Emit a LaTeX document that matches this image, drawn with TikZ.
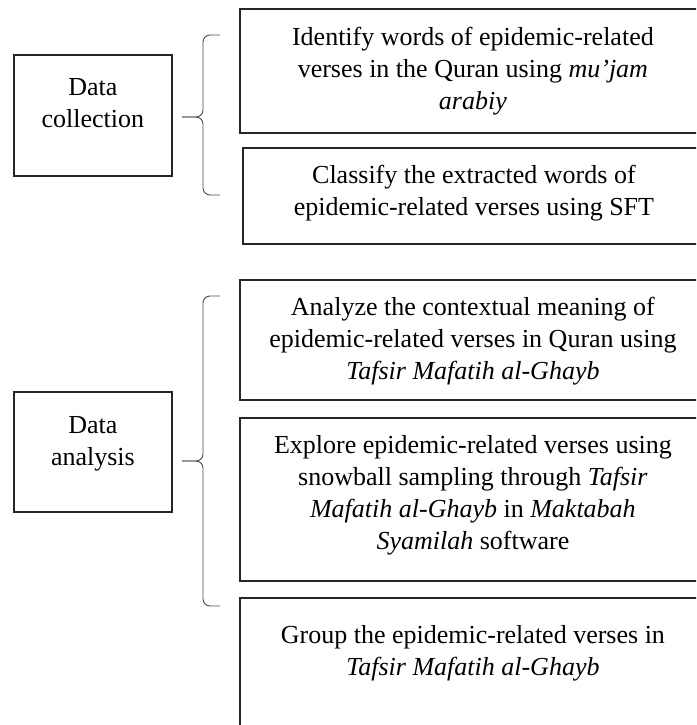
\documentclass[tikz,border=0pt]{standalone}
\usepackage{fontspec}
\setmainfont{Liberation Serif}

% box with text set from the top
\newcommand{\boxtext}[4]{\begin{minipage}[c][#2][t]{#1}\centering\rule{0pt}{#3}#4\end{minipage}}

\tikzset{
  stepbox/.style={draw=black!85, line width=1.8pt, inner sep=0pt, anchor=north west},
  bracket/.style={draw=black!70, line width=0.9pt, rounded corners=7pt}
}

\begin{document}
\begin{tikzpicture}[x=1pt,y=-1pt,font=\fontsize{26}{32}\selectfont]
\useasboundingbox (0,0) rectangle (696,725);
\clip (0,0) rectangle (696,725);

% left column
\node[stepbox] (collect) at (13,54) {\boxtext{158pt}{121pt}{41pt}{Data\\collection}};
\node[stepbox] (analyse) at (13,391) {\boxtext{158pt}{120pt}{42pt}{Data\\analysis}};

% right column
\node[stepbox] (identify) at (239,8) {\boxtext{466pt}{124pt}{37pt}{Identify words of epidemic-related\\verses in the Quran using \textit{mu’jam}\\\textit{arabiy}}};
\node[stepbox] (classify) at (242,147) {\boxtext{462pt}{96pt}{36pt}{Classify the extracted words of\\epidemic-related verses using SFT}};
\node[stepbox] (meaning) at (239,279) {\boxtext{466pt}{120pt}{36pt}{Analyze the contextual meaning of\\epidemic-related verses in Quran using\\\textit{Tafsir Mafatih al-Ghayb}}};
\node[stepbox] (explore) at (239,417) {\boxtext{466pt}{163pt}{36pt}{Explore epidemic-related verses using\\snowball sampling through \textit{Tafsir}\\\textit{Mafatih al-Ghayb} in \textit{Maktabah}\\\textit{Syamilah} software}};
\node[stepbox] (group) at (239,597) {\boxtext{466pt}{143pt}{46pt}{Group the epidemic-related verses in\\\textit{Tafsir Mafatih al-Ghayb}}};

% brace ends
\coordinate (top1) at (220,35);
\coordinate (bot1) at (220,195);
\coordinate (mid1) at (203,117);
\coordinate (tip1) at ([xshift=9pt]collect.east |- mid1);
\coordinate (top2) at (220,296);
\coordinate (bot2) at (220,606);
\coordinate (mid2) at (203,461);
\coordinate (tip2) at ([xshift=9pt]analyse.east |- mid2);

% braces
\draw[bracket] (top1) -| (mid1) -- (tip1);
\draw[bracket] (bot1) -| (mid1) -- (tip1);
\draw[bracket] (top2) -| (mid2) -- (tip2);
\draw[bracket] (bot2) -| (mid2) -- (tip2);
\end{tikzpicture}
\end{document}
